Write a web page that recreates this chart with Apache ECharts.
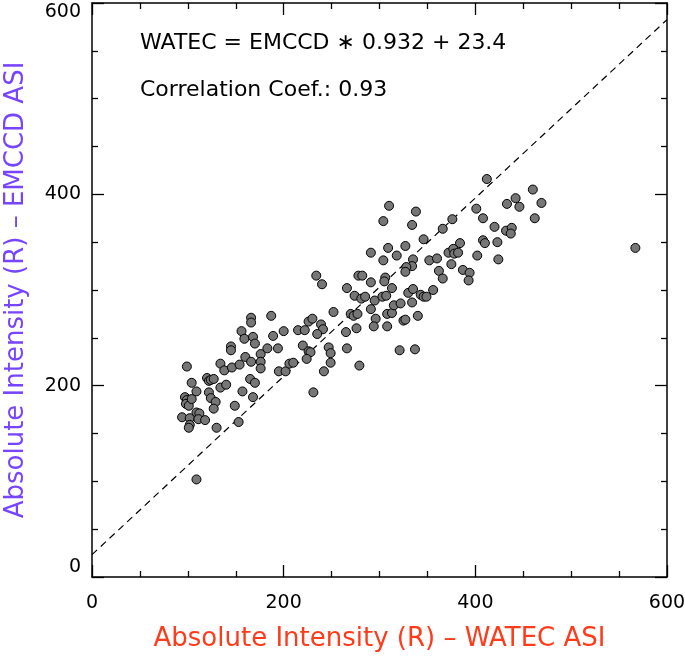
<!DOCTYPE html>
<html>
<head>
<meta charset="utf-8">
<script src="https://cdn.jsdelivr.net/npm/echarts@6/dist/echarts.min.js"></script>
<style>
html,body{margin:0;padding:0;background:#fff;}
#chart{width:685px;height:657px;}
</style>
</head>
<body>
<div id="chart"></div>
<script>
// WATEC ASI intensity (x) and EMCCD ASI intensity (y)
const watec = [
 99,104,120,122,124,127,109,97,99,98,101,104,109,112,94,102,102,101,111,118,130,122,124,129,127,134,140,134,138,146,154,145,145,156,159,168,170,160,166,176,176,176,183,189,194,195,202,206,200,165,170,157,149,168,153,109,
 291,234,240,278,282,291,266,274,281,285,295,291,270,273,277,296,294,276,252,265,226,230,239,241,235,215,222,187,166,166,220,247,249,249,226,228,224,210,266,279,242,231,
 412,310,338,304,334,401,408,376,366,346,408,410,384,309,327,318,304,335,334,328,327,352,360,372,377,378,382,375,362,366,387,394,393,402,306,305,313,303,307,330,335,343,346,349,356,
 460,442,446,433,469,462,420,432,438,437,423,424,567,
 308,313,308,315,322,325,327,334,340,321,337
];
const emccd = [
 220,203,208,205,206,207,194,188,185,181,179,186,172,171,167,166,159,156,165,164,156,193,187,183,176,198,201,223,216,219,222,241,237,257,249,251,244,230,225,233,225,218,239,252,239,215,215,223,257,207,203,194,179,188,162,102,
 339,315,306,315,315,308,302,294,291,293,289,280,275,273,275,270,262,260,277,256,267,270,264,259,254,258,258,273,271,266,242,240,234,224,236,235,228,224,239,221,215,193,
 416,388,382,372,368,385,375,374,364,353,352,349,349,344,346,336,331,332,325,324,319,331,333,339,343,338,339,327,320,312,321,318,310,336,313,309,302,293,294,297,301,295,293,293,300,
 405,396,387,390,391,375,366,362,365,359,350,332,344,
 275,276,262,284,286,268,269,287,273,237,238
];
// fit: WATEC = EMCCD * 0.932 + 23.4
const fitSlope = 0.932;
const fitIntercept = 23.4;
const fitRange = [0, 600];
const eqText = 'WATEC = EMCCD \u2217 0.932 + 23.4';
const corrText = 'Correlation Coef.: 0.93';
const xTitle = 'Absolute Intensity (R) \u2013 WATEC ASI';
const yTitle = 'Absolute Intensity (R) \u2013 EMCCD ASI';

const FONT = 'DejaVu Sans';
const scatterData = watec.map((x, i) => [x, emccd[i]]);
const fitData = fitRange.map(x => [x, x * fitSlope + fitIntercept]);

function axisBase(show) {
  return {
    type: 'value', min: 0, max: 600, interval: 200,
    axisLine: {show: true, onZero: false, lineStyle: {color: '#000', width: 1.5}},
    axisTick: {show: true, inside: true, length: 12, lineStyle: {color: '#000', width: 1.3}},
    minorTick: {show: true, splitNumber: 4, length: 6, lineStyle: {color: '#000', width: 1.3}},
    splitLine: {show: false},
    minorSplitLine: {show: false},
    axisLabel: {show: show, color: '#000', fontFamily: FONT, fontSize: 19}
  };
}

const chart = echarts.init(document.getElementById('chart'), null, {renderer: 'canvas'});
const xBottom = axisBase(true);
xBottom.position = 'bottom';
xBottom.axisLabel.margin = 17;
xBottom.name = xTitle;
xBottom.nameLocation = 'middle';
xBottom.nameGap = 49;
xBottom.nameTextStyle = {color: '#ff3b1c', fontFamily: FONT, fontSize: 26};
const xTop = axisBase(false);
xTop.position = 'top';
const yLeft = axisBase(true);
yLeft.position = 'left';
yLeft.axisLabel.margin = 11;
yLeft.axisLabel.verticalAlignMinLabel = 'bottom';
yLeft.axisLabel.verticalAlignMaxLabel = 'top';
yLeft.name = yTitle;
yLeft.nameLocation = 'middle';
yLeft.nameGap = 63;
yLeft.nameTextStyle = {color: '#7744ff', fontFamily: FONT, fontSize: 26};
const yRight = axisBase(false);
yRight.position = 'right';

chart.setOption({
  animation: false,
  backgroundColor: '#fff',
  grid: {left: 92, right: 18, top: 3, bottom: 80, containLabel: false, outerBoundsMode: 'none'},
  xAxis: [xBottom, xTop],
  yAxis: [yLeft, yRight],
  graphic: [
    {type: 'text', left: 140, top: 32, style: {text: eqText, fill: '#000', font: '22px "' + FONT + '"'}},
    {type: 'text', left: 140, top: 79, style: {text: corrText, fill: '#000', font: '22px "' + FONT + '"'}}
  ],
  series: [
    {
      type: 'line', xAxisIndex: 0, yAxisIndex: 0, data: fitData,
      symbol: 'none', silent: true, z: 1,
      lineStyle: {color: '#000', width: 1.2, type: [7, 5]}
    },
    {
      type: 'scatter', xAxisIndex: 0, yAxisIndex: 0, data: scatterData,
      symbol: 'circle', symbolSize: 9, z: 2,
      itemStyle: {color: '#767676', borderColor: '#000', borderWidth: 1, opacity: 1}
    }
  ]
});
</script>
</body>
</html>
